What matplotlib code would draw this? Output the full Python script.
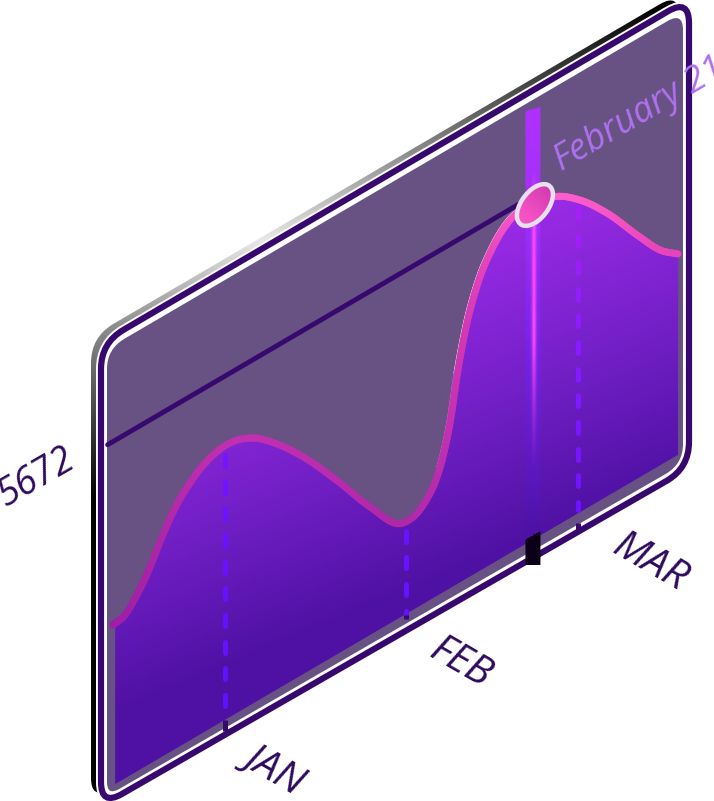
import numpy as np
import matplotlib
matplotlib.use("Agg")
import matplotlib.pyplot as plt
from matplotlib.collections import LineCollection
from matplotlib.colors import to_rgb
from matplotlib.patches import PathPatch, Ellipse
from matplotlib.path import Path
from matplotlib.transforms import Affine2D

# ---- data ----
curve_month = [-0.635, -0.567, -0.493, -0.436, -0.357, -0.283, -0.187, -0.096, 0.040, 0.159, 0.295,
               0.425, 0.652, 0.822, 1.008, 1.133, 1.201, 1.241, 1.275, 1.320, 1.371, 1.433,
               1.518, 1.615, 1.756, 1.858, 2.011, 2.164, 2.351, 2.465, 2.567]
curve_value = [2645, 2695, 2932, 3183, 3625, 3977, 4274, 4452, 4515, 4379, 4049,
               3646, 2797, 2112, 1530, 1660, 1960, 2300, 2726, 3523, 4211, 4765,
               5214, 5496, 5503, 5461, 5150, 4675, 3960, 3552, 3313]
tick_month = [0, 1.025, 2]
tick_labels = ["JAN", "FEB", "MAR"]
reference_value = 5672
reference_label = "5672"
marker_month = 1.756
marker_value = 5503
marker_label = "February 21"

# ---- projection of the chart plane ----
W, H = 714, 801
S = 0.585          # slope of the plane
PX_MONTH = 176.5
X_JAN = 225
K = 16.5           # value units per pixel
X0, Y0 = 117, 783  # origin of the value axis baseline

fig = plt.figure(figsize=(W / 100, H / 100), dpi=100, facecolor="white")
ax = fig.add_axes([0, 0, 1, 1])
ax.set_axis_off()
plane = Affine2D.from_values(PX_MONTH, -S * PX_MONTH, 0, -1 / K, X_JAN, Y0 - S * (X_JAN - X0))
chart_tf = plane + ax.transData
to_px = plane.transform


def rounded(pts, d):
    """Closed path through pts with rounded corners."""
    pts = [np.array(p, float) for p in pts]
    n = len(pts)
    verts, codes = [], []
    for i in range(n):
        p, a, b = pts[i], pts[i - 1], pts[(i + 1) % n]
        s = p + (a - p) / np.linalg.norm(a - p) * d[i]
        e = p + (b - p) / np.linalg.norm(b - p) * d[i]
        verts += [s, p, e]
        codes += [Path.LINETO if i else Path.MOVETO, Path.CURVE3, Path.CURVE3]
    verts.append(verts[0])
    codes.append(Path.CLOSEPOLY)
    return Path(verts, codes)


def ramp(g, positions, colors):
    rgb = np.array([to_rgb(c) for c in colors])
    return np.stack([np.interp(g, positions, rgb[:, i]) for i in range(3)], axis=-1)


yy, xx = np.mgrid[0:H, 0:W] + 0.5
DARK = "#37096e"

# shadow edge
frame_pts = [(101, 343), (689, -1), (689, 468), (101, 806)]
shadow = rounded([(x - 10, y - 6) for x, y in frame_pts], [26, 22, 26, 22])
u = 800 - yy
shadow_img = ramp(u, [0, 300, 470, 560, 700, 795],
                  ["#000000", "#000000", "#8a8a8a", "#e8e8e8", "#555555", "#000000"])
im = ax.imshow(shadow_img, extent=(0, W, H, 0), aspect="auto", zorder=1, interpolation="bilinear")
im.set_clip_path(shadow, transform=ax.transData)

# frame
frame = rounded(frame_pts, [26, 24, 26, 24])
ax.add_patch(PathPatch(frame, fc="white", ec="white", lw=10 * 0.72, zorder=2))
ax.add_patch(PathPatch(frame, fc="white", ec=DARK, lw=6.2 * 0.72, zorder=3))
panel = rounded([(107, 349), (683, 12), (683, 464), (107, 796)], [20, 18, 20, 14])
ax.add_patch(PathPatch(panel, fc="#675283", ec="none", zorder=4))

# smooth curve through the values that were read
cm = np.array(curve_month)
cv = np.array(curve_value, float)
slopes = np.gradient(cv, cm)
dense_t, dense_v = [], []
for i in range(len(cm) - 1):
    h = cm[i + 1] - cm[i]
    q = np.linspace(0, 1, 16, endpoint=False)
    dense_t.append(cm[i] + q * h)
    dense_v.append((2 * q**3 - 3 * q**2 + 1) * cv[i] + (q**3 - 2 * q**2 + q) * h * slopes[i]
                   + (-2 * q**3 + 3 * q**2) * cv[i + 1] + (q**3 - q**2) * h * slopes[i + 1])
dense_t = np.concatenate(dense_t + [[cm[-1]]])
dense_v = np.concatenate(dense_v + [[cv[-1]]])
dense_px = to_px(np.column_stack([dense_t, dense_v]))

# area
keep = dense_t >= -0.623
area_t, area_v = dense_t[keep], dense_v[keep]
area = Path(np.vstack([[area_t[0], 0], np.column_stack([area_t, area_v]), [area_t[-1], 0], [area_t[0], 0]]))
g = Y0 - 0.42 * (xx - X0) - yy
im = ax.imshow(ramp(g, [70, 230, 400], ["#4f11a3", "#7420c8", "#9a2be6"]),
               extent=(0, W, H, 0), aspect="auto", zorder=5, interpolation="bilinear")
im.set_clip_path(area, transform=chart_tf)

# reference line
ax.plot([curve_month[0] - 0.03, marker_month - 0.05], [reference_value] * 2, color=DARK, lw=3.5,
        solid_capstyle="round", transform=chart_tf, zorder=6)

# month guides
dash_end = [230, -10, 50]
tick_from = [0, -20, -165]
tick_to = [-180, -80, -300]
for m, end, a, b in zip(tick_month, dash_end, tick_from, tick_to):
    top = np.interp(m, dense_t, dense_v)
    p0, p1 = to_px([[m, top], [m, end]])
    segs, cols = [], []
    y = p0[1] + 9
    while y < p1[1]:
        y2 = min(y + 11, p1[1])
        segs.append([(p0[0], y), (p0[0], y2)])
        cols.append(ramp(np.array([y]), [200, 330, 520, 720],
                         ["#a81ff5", "#8a1cff", "#6a12ff", "#5f10ff"])[0])
        y += 26.7
    ax.add_collection(LineCollection(segs, colors=cols, linewidths=3.6, capstyle="round", zorder=7))
    ax.plot([m, m], [a, b], color=DARK, lw=3.6, solid_capstyle="butt", transform=chart_tf, zorder=7)

# highlighted bar at the marked date
cx = to_px([[marker_month, 0]])[0, 0] - 2
bar_path = Path([(cx - 7.5, 111), (cx + 7.5, 107), (cx + 7.5, 565), (cx - 7.5, 565), (cx - 7.5, 111)])
by, bx = np.mgrid[100:570, 0:16]
prof = np.exp(-((bx - 8.5) / 2.2) ** 2)
v = by + 0.5
rgb_edge = ramp(v, [107, 215, 340, 480, 530], ["#b030ff", "#a030f8", "#7a24e8", "#5a18c8", "#4a12a8"])
rgb_core = np.array(to_rgb("#ff45ff"))
core = (prof * np.interp(v, [170, 215, 340, 470], [0, 1, 1, 0]))[..., None]
rgb = rgb_edge * (1 - core) + rgb_core * core
dark_mask = (v > 535 + (8 - bx) * 0.58)[..., None]
rgb = np.where(dark_mask, np.array(to_rgb("#0c0018")), rgb)
alpha = np.interp(v, [107, 340, 460, 530], [1, 1, 0.55, 0.5])
alpha = np.where(dark_mask[..., 0], 1.0, alpha)
bar_img = np.dstack([rgb, alpha])
im = ax.imshow(bar_img, extent=(cx - 8, cx + 8, 570, 100), aspect="auto", zorder=8, interpolation="bilinear")
im.set_clip_path(bar_path, transform=ax.transData)

# curve and its thin rim light
tang = np.gradient(dense_px, axis=0)
tang /= np.linalg.norm(tang, axis=1, keepdims=True)
rim = dense_px + 3.2 * np.column_stack([tang[:, 1], -tang[:, 0]])
mask_low = (dense_px[:, 0] > 440) & (dense_px[:, 0] < 458)
mask_high = (dense_px[:, 0] >= 457) & (dense_px[:, 0] < 522)
ax.plot(rim[mask_low, 0], rim[mask_low, 1], color="#f070f0", lw=0.8, zorder=9)
ax.plot(rim[mask_high, 0], rim[mask_high, 1], color="white", lw=1.0, zorder=9)
segs = np.stack([dense_px[:-1], dense_px[1:]], axis=1)
seg_y = segs[:, :, 1].mean(axis=1)
seg_col = ramp(seg_y, [196, 254, 330, 438, 522, 625],
               ["#ff5ccc", "#e644ba", "#d238b4", "#c030b0", "#b028a8", "#a01ea5"])
ax.add_collection(LineCollection(segs, colors=seg_col, linewidths=5.0, capstyle="round", zorder=10))

# marker
R = 18.0
disc = Ellipse((marker_month, marker_value), 2 * R / PX_MONTH, 2 * R * K, transform=chart_tf,
               fc="none", ec="none", zorder=11)
ax.add_patch(disc)
im = ax.imshow(ramp(yy - xx, [-360, -310], ["#d43cb0", "#f552c4"]), extent=(0, W, H, 0), aspect="auto",
               zorder=11, interpolation="bilinear")
im.set_clip_path(disc)
ax.add_patch(Ellipse((marker_month, marker_value), 2 * R / PX_MONTH, 2 * R * K, transform=chart_tf,
                     fc="none", ec="#e8dff0", lw=3.2, zorder=12))

# text
TXT = "#2e0a5e"
font = ["Open Sans", "DejaVu Sans"]
ax.text(36, 478, reference_label, rotation=30, rotation_mode="anchor", ha="center", va="center",
        style="italic", family=font, fontsize=27, color=TXT, zorder=13)
ax.text(561, 171, marker_label, rotation=30.5, rotation_mode="anchor", ha="left", va="baseline",
        style="italic", family=font, fontsize=26, color="#b070f0", zorder=13)
label_pos = [(275, 768), (460, 663), (650, 563)]
for (x, y), lab in zip(label_pos, tick_labels):
    ax.text(x, y, lab, rotation=-30, rotation_mode="anchor", ha="center", va="center",
            style="italic", family=font, fontsize=29, weight="medium", color=TXT, zorder=13)

ax.set_xlim(0, W)
ax.set_ylim(H, 0)
fig.savefig("out.png", dpi=100)
